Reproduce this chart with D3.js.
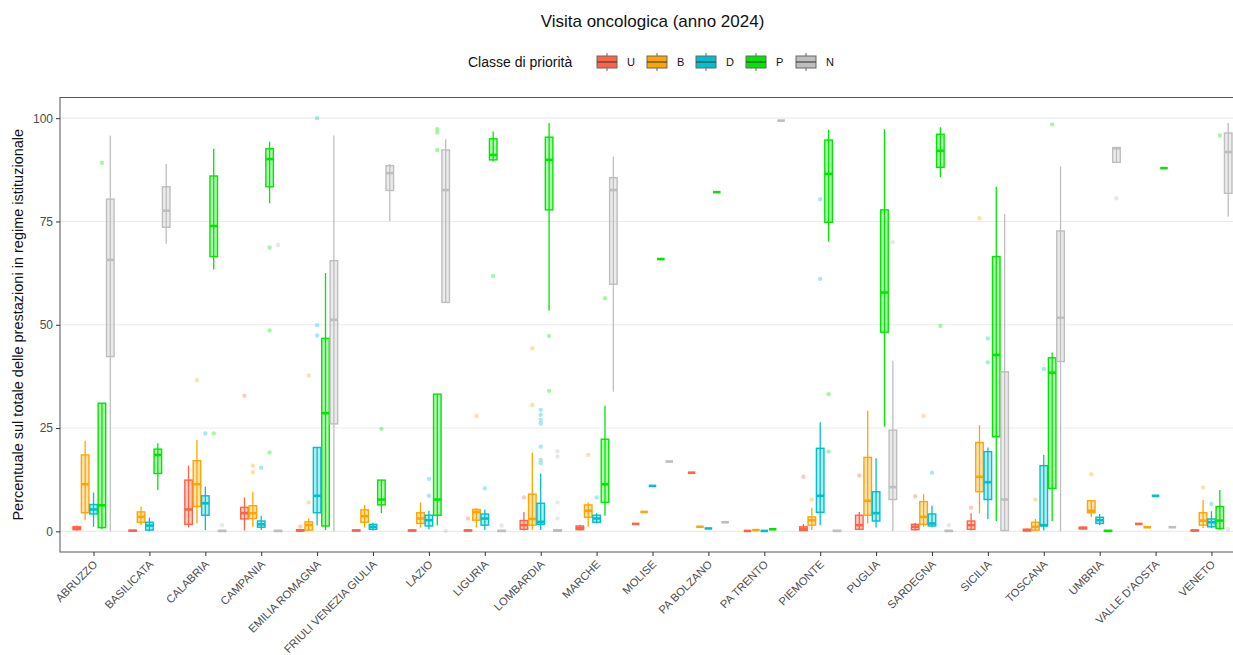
<!DOCTYPE html>
<html><head><meta charset="utf-8">
<script src="https://cdn.jsdelivr.net/npm/d3@7"></script>
<style>body{margin:0;background:#fff;} svg{display:block;font-family:"Liberation Sans",Arial,Helvetica,sans-serif;}</style>
</head><body><svg id="chart" width="1233" height="655"></svg>
<script>
const regions = ["ABRUZZO","BASILICATA","CALABRIA","CAMPANIA","EMILIA ROMAGNA","FRIULI VENEZIA GIULIA","LAZIO","LIGURIA","LOMBARDIA","MARCHE","MOLISE","PA BOLZANO","PA TRENTO","PIEMONTE","PUGLIA","SARDEGNA","SICILIA","TOSCANA","UMBRIA","VALLE D'AOSTA","VENETO"];
const classes = ["U","B","D","P","N"];
const classColors = ["#FF6347","#FFA500","#00BFCF","#00E600","#BEBEBE"];
const yTicks = [0,25,50,75,100];

// five-number summaries [lower whisker, q1, median, q3, upper whisker], one per region
const statsU = [[0.2,0.4,0.8,1.1,1.4],[0,0.05,0.15,0.25,0.35],[0.9,1.7,5.3,12.4,15.9],[0.2,3.0,4.4,5.8,8.2],[0,0.1,0.2,0.4,0.6],[0,0.1,0.2,0.3,0.4],[0,0.1,0.2,0.3,0.5],[0,0.1,0.2,0.3,0.5],[0.2,0.5,1.5,2.6,4.7],[0.2,0.4,0.8,1.3,1.6],[1.8,1.8,1.8,1.8,1.8],[14.2,14.2,14.2,14.2,14.2],[0.1,0.1,0.1,0.1,0.1],[0.1,0.2,0.6,1.1,1.8],[0.3,0.5,1.5,3.9,4.7],[0.2,0.4,1.1,1.7,2.1],[0.2,0.5,1.5,2.5,4.4],[0,0.1,0.3,0.5,0.7],[0.5,0.6,0.8,1.0,1.2],[1.8,1.8,1.8,1.8,1.8],[0,0.1,0.2,0.3,0.4]];
const statsB = [[2.7,4.5,11.4,18.5,21.9],[1.5,2.2,3.5,4.7,6.0],[1.9,6.0,11.4,17.1,22.1],[1.1,3.1,4.4,6.2,9.6],[0.1,0.3,1.5,2.3,3.1],[0.9,2.2,3.7,5.2,6.4],[0.9,1.9,3.1,4.5,7.0],[0.9,2.7,4.7,5.3,5.6],[0.3,1.5,3.0,9.0,19.1],[1.1,3.4,5.0,6.4,7.0],[4.7,4.7,4.7,4.7,4.7],[1.1,1.1,1.1,1.1,1.1],[0.3,0.3,0.3,0.3,0.3],[0.3,1.5,2.7,3.5,5.7],[1.9,3.9,7.4,17.9,29.2],[1.1,1.7,3.5,7.2,9.0],[4.4,9.6,13.2,21.5,25.7],[0.1,0.3,1.1,2.2,3.0],[3.5,4.5,5.0,7.4,7.4],[1.0,1.0,1.0,1.0,1.0],[0.8,1.5,2.6,4.5,7.6]];
const statsD = [[1.1,4.2,5.3,6.5,9.4],[0,0.3,1.4,2.2,3.3],[0.3,3.9,6.8,8.6,10.8],[0.3,1.0,1.7,2.5,3.8],[1.5,4.5,8.6,20.3,20.3],[0.2,0.5,1.1,1.7,2.1],[0.5,1.3,2.7,3.9,5.0],[0.3,1.5,3.1,4.2,5.3],[0.3,1.7,2.3,6.8,14.0],[1.9,2.2,3.1,3.9,4.4],[11.0,11.0,11.0,11.0,11.0],[0.7,0.7,0.7,0.7,0.7],[0.1,0.1,0.1,0.1,0.1],[1.5,4.6,8.6,20.1,26.4],[0.9,2.5,4.4,9.6,17.7],[1.0,1.3,1.9,4.2,6.2],[3.0,7.7,11.9,19.3,20.3],[0.2,1.3,1.5,15.9,18.5],[1.5,1.9,2.7,3.4,4.2],[8.6,8.6,8.6,8.6,8.6],[0.8,1.1,2.2,3.0,4.9]];
const statsP = [[0.5,0.9,6.3,31.0,31.0],[10.0,14.0,18.5,19.9,21.3],[63.4,66.5,73.9,86.0,92.6],[79.4,83.4,90.1,92.6,94.3],[0.3,1.3,28.6,46.7,62.5],[4.4,6.4,7.7,12.4,12.4],[1.5,3.9,7.7,33.2,33.2],[89.5,89.9,91.1,95.0,96.8],[53.4,77.8,89.9,95.4,98.8],[3.8,7.0,11.4,22.3,30.4],[65.9,65.9,65.9,65.9,65.9],[82.1,82.1,82.1,82.1,82.1],[0.5,0.5,0.5,0.5,0.5],[70.1,74.8,86.5,94.7,97.2],[25.3,48.2,57.8,77.8,97.3],[85.7,88.1,92.1,96.1,97.8],[2.5,22.9,42.7,66.5,83.4],[2.5,10.4,38.4,42.0,43.3],[0,0.05,0.1,0.2,0.3],[87.9,87.9,87.9,87.9,87.9],[0.3,0.7,2.6,6.0,10.0]];
const statsN = [[0,42.3,65.7,80.4,95.8],[69.6,73.6,77.6,83.4,88.9],[0,0,0.1,0.2,0.3],[0,0,0.1,0.2,0.3],[0,26.0,51.2,65.5,95.8],[75.1,82.5,86.7,88.5,88.9],[55.4,55.4,82.6,92.3,94.9],[0,0,0.1,0.2,0.3],[0,0,0.2,0.4,0.6],[33.8,59.8,82.6,85.6,90.7],[16.9,16.9,16.9,16.9,16.9],[2.2,2.2,2.2,2.2,2.2],[99.4,99.4,99.4,99.4,99.4],[0,0,0.1,0.2,0.3],[0.1,7.7,10.7,24.5,41.3],[0,0,0.1,0.2,0.3],[0,0.2,7.7,38.6,76.8],[0,41.1,51.7,72.7,88.3],[89.3,89.3,92.7,92.9,92.9],[1.0,1.0,1.0,1.0,1.0],[76.2,81.8,91.8,96.4,98.8]];

// outliers [region, value]
const outliersU = [["CAMPANIA",32.8],["EMILIA ROMAGNA",1.2],["LIGURIA",3.1],["LOMBARDIA",8.2],["PIEMONTE",13.2],["PUGLIA",13.5],["SARDEGNA",8.5],["SICILIA",5.7]];
const outliersB = [["CALABRIA",36.6],["CAMPANIA",15.9],["CAMPANIA",14.3],["EMILIA ROMAGNA",7.0],["EMILIA ROMAGNA",37.7],["LIGURIA",27.9],["LOMBARDIA",44.3],["LOMBARDIA",30.6],["MARCHE",18.5],["PIEMONTE",7.7],["SARDEGNA",27.9],["SICILIA",75.8],["TOSCANA",7.7],["UMBRIA",13.8],["VENETO",10.6]];
const outliersD = [["CALABRIA",23.7],["CAMPANIA",15.4],["EMILIA ROMAGNA",100],["EMILIA ROMAGNA",49.9],["EMILIA ROMAGNA",47.4],["LAZIO",12.7],["LAZIO",8.6],["LIGURIA",10.4],["LOMBARDIA",29.4],["LOMBARDIA",28.2],["LOMBARDIA",27.0],["LOMBARDIA",26.1],["LOMBARDIA",20.5],["LOMBARDIA",17.3],["LOMBARDIA",16.5],["MARCHE",8.2],["PIEMONTE",80.4],["PIEMONTE",61.1],["SARDEGNA",14.2],["SICILIA",46.7],["SICILIA",40.9],["TOSCANA",39.3],["VENETO",6.6]];
const outliersP = [["ABRUZZO",89.2],["CALABRIA",23.7],["CAMPANIA",68.7],["CAMPANIA",48.6],["CAMPANIA",19.1],["FRIULI VENEZIA GIULIA",24.8],["LAZIO",97.3],["LAZIO",96.5],["LAZIO",92.3],["LIGURIA",61.8],["LOMBARDIA",47.3],["LOMBARDIA",34.0],["MARCHE",56.4],["PIEMONTE",33.2],["PIEMONTE",19.3],["SARDEGNA",49.7],["TOSCANA",98.5],["VENETO",95.8]];
const outliersN = [["CALABRIA",1.5],["CAMPANIA",69.3],["LAZIO",0.1],["LIGURIA",1.4],["LOMBARDIA",19.4],["LOMBARDIA",18.1],["LOMBARDIA",7.0],["LOMBARDIA",3.1],["PUGLIA",70.0],["SARDEGNA",1.5],["UMBRIA",80.6],["VENETO",0.5]];

const statsByClass = [statsU, statsB, statsD, statsP, statsN];
const outliersByClass = [outliersU, outliersB, outliersD, outliersP, outliersN];

const svg = d3.select("#chart");
const P = {left:60, right:1245, top:97.5, bottom:552};
const x = d3.scalePoint().domain(regions).range([P.left, P.right]).padding(0.6);
const y = d3.scaleLinear().domain([-5,105]).range([P.bottom, P.top]);
const dodge = d3.scaleBand().domain(classes).range([-x.step()*0.375, x.step()*0.375]);
const boxW = dodge.bandwidth()*0.9;
const color = d3.scaleOrdinal().domain(classes).range(classColors);

// grid
svg.append("g").selectAll("line").data(yTicks).join("line")
  .attr("x1",P.left).attr("x2",P.right).attr("y1",d=>y(d)).attr("y2",d=>y(d))
  .attr("stroke","#EBEBEB").attr("stroke-width",1.1);

const plot = svg.append("g");
classes.forEach((c,k)=>{
  const col = color(c);
  const g = plot.append("g");
  g.selectAll("circle").data(outliersByClass[k]).join("circle")
    .attr("cx",d=>x(d[0])+dodge(c)+dodge.bandwidth()/2)
    .attr("cy",d=>y(d[1])).attr("r",2.2)
    .attr("fill",col).attr("fill-opacity",0.35);
  const data = statsByClass[k].map((s,i)=>({r:regions[i], s}));
  const cx = d=>x(d.r)+dodge(c)+dodge.bandwidth()/2;
  g.selectAll("line.wh").data(data).join("line").attr("class","wh")
    .attr("x1",cx).attr("x2",cx).attr("y1",d=>y(d.s[0])).attr("y2",d=>y(d.s[4]))
    .attr("stroke",col).attr("stroke-width",1.3);
  g.selectAll("rect").data(data).join("rect")
    .attr("x",d=>cx(d)-boxW/2).attr("width",boxW)
    .attr("y",d=>y(d.s[3])).attr("height",d=>y(d.s[1])-y(d.s[3]))
    .attr("fill",col).attr("fill-opacity",0.3)
    .attr("stroke",col).attr("stroke-width",1.4);
  g.selectAll("line.med").data(data).join("line").attr("class","med")
    .attr("x1",d=>cx(d)-boxW/2).attr("x2",d=>cx(d)+boxW/2)
    .attr("y1",d=>y(d.s[2])).attr("y2",d=>y(d.s[2]))
    .attr("stroke",col).attr("stroke-width",2.6);
});

// panel border
svg.append("rect").attr("x",P.left).attr("y",P.top).attr("width",P.right-P.left).attr("height",P.bottom-P.top)
  .attr("fill","none").attr("stroke","#555").attr("stroke-width",1);

// axes
const ya = svg.append("g").attr("transform",`translate(${P.left},0)`)
  .call(d3.axisLeft(y).tickValues(yTicks).tickSize(4).tickPadding(3));
ya.select(".domain").remove();
ya.selectAll("line").attr("stroke","#333");
ya.selectAll("text").attr("font-size",12).attr("fill","#4D4D4D").attr("font-family","Liberation Sans, Arial, sans-serif");

const xa = svg.append("g").attr("transform",`translate(0,${P.bottom})`)
  .call(d3.axisBottom(x).tickSize(4));
xa.select(".domain").remove();
xa.selectAll("line").attr("stroke","#333");
xa.selectAll("text").attr("font-size",11.2).attr("fill","#4D4D4D").attr("font-family","Liberation Sans, Arial, sans-serif")
  .attr("text-anchor","end").attr("dy",null).attr("y",null)
  .attr("transform","translate(4,13) rotate(-45)");

// title
svg.append("text").attr("x",(P.left+P.right)/2).attr("y",27).attr("text-anchor","middle")
  .attr("font-size",17).attr("fill","#111").text("Visita oncologica (anno 2024)");

// y title
svg.append("text").attr("transform",`translate(23,${(P.top+P.bottom)/2}) rotate(-90)`)
  .attr("text-anchor","middle").attr("font-size",14.5).attr("fill","#111")
  .text("Percentuale sul totale delle prestazioni in regime istituzionale");

// legend
const lg = svg.append("g");
lg.append("text").attr("x",468).attr("y",67).attr("font-size",14).attr("fill","#111").text("Classe di priorità");
const keyX = [597,647,696,746,796];
classes.forEach((c,k)=>{
  const kx = keyX[k];
  lg.append("line").attr("x1",kx+10).attr("x2",kx+10).attr("y1",53).attr("y2",71).attr("stroke","#666").attr("stroke-width",1);
  lg.append("rect").attr("x",kx).attr("y",56).attr("width",20).attr("height",12)
    .attr("fill",classColors[k]).attr("stroke","#666").attr("stroke-width",1);
  lg.append("line").attr("x1",kx).attr("x2",kx+20).attr("y1",62).attr("y2",62).attr("stroke","#444").attr("stroke-width",1.2);
  lg.append("text").attr("x",kx+30).attr("y",66).attr("font-size",11).attr("fill","#111").text(c);
});
</script></body></html>
